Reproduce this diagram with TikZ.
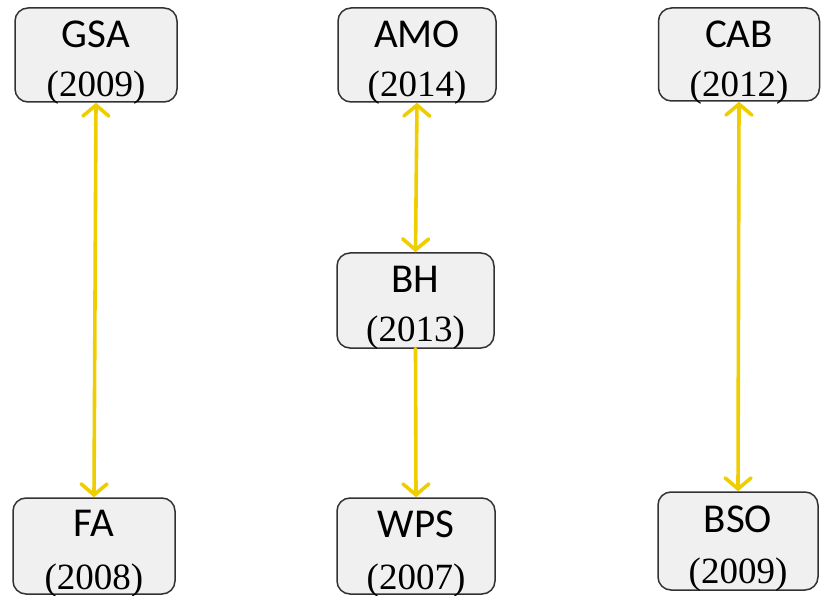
\documentclass[tikz,border=0pt]{standalone}
\usepackage{fontspec}
\setmainfont{Liberation Serif}
\newfontfamily\lblfont{Carlito}
\usetikzlibrary{arrows.meta}
\definecolor{arrowyellow}{RGB}{238,206,0}
\definecolor{boxfill}{RGB}{240,240,240}
\definecolor{boxline}{RGB}{50,50,50}
\tikzset{
  box/.style={draw=boxline, fill=boxfill, line width=1.5pt, rounded corners=13pt,
    minimum width=160pt, minimum height=94pt, inner sep=0pt},
  lbl/.style={anchor=base, font=\lblfont\fontsize{41}{48}\selectfont, inner sep=0pt},
  yr/.style={anchor=base, font=\fontsize{37}{44}\selectfont, inner sep=0pt},
  conn/.style={draw=arrowyellow, line width=3.6pt, line cap=round,
    arrows={Straight Barb[length=11pt, width=26pt, line width=3.6pt, line cap=round]-Straight Barb[length=11pt, width=26pt, line width=3.6pt, line cap=round]}},
  connone/.style={draw=arrowyellow, line width=3.6pt, line cap=round,
    arrows={-Straight Barb[length=11pt, width=26pt, line width=3.6pt, line cap=round]}}
}
\begin{document}
\begin{tikzpicture}[x=1pt, y=-1pt]
\useasboundingbox (0,0) rectangle (822,596);
% boxes
\node[box, minimum width=162pt] (gsa) at (96,55) {};
\node[box, minimum width=158pt] (amo) at (417,55) {};
\node[box, minimum width=161pt, minimum height=93pt] (cab) at (739,54.5) {};
\node[box, minimum width=157pt, minimum height=95pt] (bh) at (415.5,300.5) {};
\node[box, minimum width=162pt, minimum height=96pt] (fa) at (94,546) {};
\node[box, minimum width=158pt, minimum height=96pt] (wps) at (416,546) {};
\node[box, minimum width=160pt, minimum height=98pt] (bso) at (738,541) {};
% texts
\node[lbl] (gsaL) at (96,48) {GSA};
\node[yr]  (gsaY) at (96,97) {(2009)};
\node[lbl] (amoL) at (417,48) {AMO};
\node[yr]  (amoY) at (417,97) {(2014)};
\node[lbl] (cabL) at (739,48) {CAB};
\node[yr]  (cabY) at (739,97) {(2012)};
\node[lbl] (bhL) at (415.5,292) {BH};
\node[yr]  (bhY) at (415.5,341) {(2013)};
\node[lbl] (faL) at (94,536) {FA};
\node[yr]  (faY) at (94,589) {(2008)};
\node[lbl] (wpsL) at (416,537) {WPS};
\node[yr]  (wpsY) at (416,589) {(2007)};
\node[lbl] (bsoL) at (738,532) {BSO};
\node[yr]  (bsoY) at (738,583) {(2009)};
% connectors
\draw[conn] (gsa.south) -- (fa.north);
\draw[conn] (amo.south) -- (bh.north);
\draw[connone] (bh.south) -- (wps.north);
\draw[conn] (cab.south) -- (bso.north);
\end{tikzpicture}
\end{document}
